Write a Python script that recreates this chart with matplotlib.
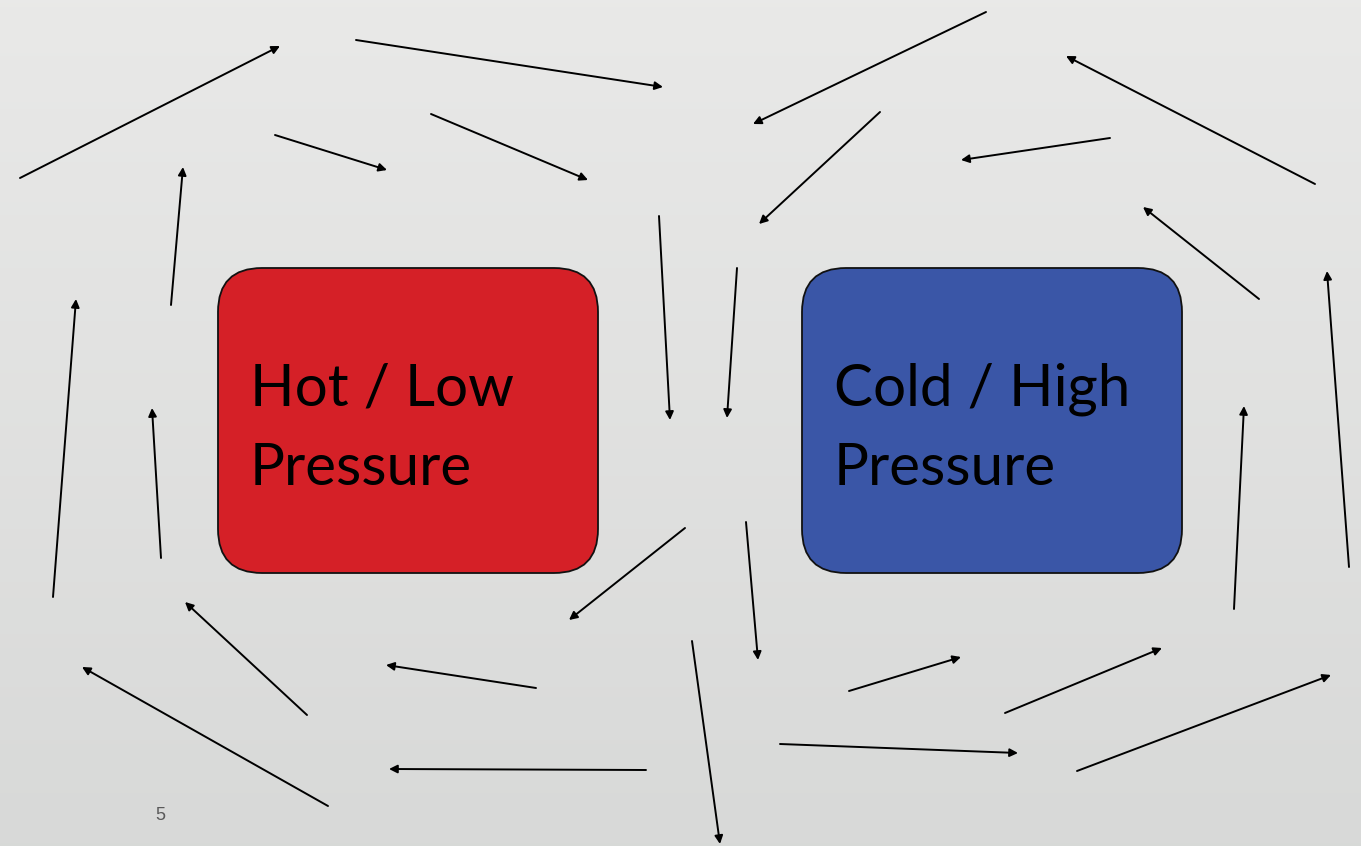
import numpy as np
import matplotlib
matplotlib.use("Agg")
import matplotlib.pyplot as plt
from matplotlib.patches import FancyBboxPatch

W, H = 1361, 846

# arrows: tail (x0, y0) -> head (x1, y1), in slide pixels
x0 = [20, 356, 275, 431, 171, 53, 161, 307, 328, 536, 646, 685, 659, 737,
      986, 880, 1110, 1315, 1259, 1349, 1234, 746, 692, 849, 1005, 1077, 780]
y0 = [178, 40, 135, 114, 305, 597, 558, 715, 806, 688, 770, 528, 216, 268,
      12, 112, 138, 184, 299, 567, 609, 522, 641, 691, 713, 771, 744]
x1 = [280, 663, 387, 588, 183, 76, 152, 185, 82, 386, 389, 569, 670, 727,
      753, 759, 961, 1066, 1143, 1327, 1244, 758, 720, 961, 1162, 1331, 1018]
y1 = [46, 87, 170, 180, 167, 299, 408, 602, 667, 665, 769, 620, 420, 418,
      124, 224, 160, 56, 207, 271, 406, 660, 844, 657, 648, 675, 753]

# boxes
box_lines = [["Hot / Low", "Pressure"], ["Cold / High", "Pressure"]]
box_colors = ["#d52027", "#3a56a7"]
box_left = [218, 802]
box_top = 268
box_w = 380
box_h = 305
line_base = [405, 485]

fig = plt.figure(figsize=(W / 100, H / 100), dpi=100)
ax = fig.add_axes([0, 0, 1, 1])
ax.set_xlim(0, W)
ax.set_ylim(H, 0)
ax.axis("off")

# background gradient
grad = np.linspace(0, 1, 256).reshape(-1, 1)
top = np.array([0.914, 0.914, 0.910])
bot = np.array([0.847, 0.851, 0.847])
bg = top + (bot - top) * grad[..., None]
ax.imshow(bg, extent=[0, W, H, 0], aspect="auto", zorder=0)

for lines, col, bx in zip(box_lines, box_colors, box_left):
    p = FancyBboxPatch((bx, box_top), box_w, box_h,
                       boxstyle="round,pad=0,rounding_size=44",
                       facecolor=col, edgecolor="#111111", lw=1.3, zorder=2)
    ax.add_patch(p)
    for s, yb in zip(lines, line_base):
        ax.text(bx + 32, yb, s, fontsize=42, family="Lato",
                color="black", va="baseline", ha="left", zorder=3)

for a, b, c, d in zip(x0, y0, x1, y1):
    ax.annotate("", xy=(c, d), xytext=(a, b),
                arrowprops=dict(arrowstyle="-|>", color="black", lw=1.4,
                                mutation_scale=12, shrinkA=0, shrinkB=0),
                zorder=4)

ax.text(160, 815, "5", fontsize=13, family="Liberation Sans", color="#595959",
        ha="center", va="center")

fig.savefig("out.png", dpi=100)
